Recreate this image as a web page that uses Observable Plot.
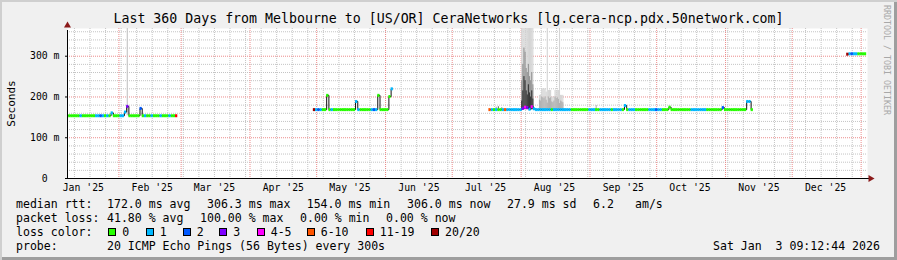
<!DOCTYPE html>
<html>
<head>
<meta charset="utf-8">
<script src="https://cdn.jsdelivr.net/npm/d3@7"></script>
<script src="https://cdn.jsdelivr.net/npm/@observablehq/plot@0.6"></script>
<style>
  html, body { margin: 0; padding: 0; background: #f0f0f0; }
  #graph { position: relative; width: 897px; height: 260px; overflow: hidden; background: #f0f0f0;
    box-shadow: inset 2px 2px 0 #cfcfcf, inset -3px -3px 0 #9e9e9e;
    font-family: "DejaVu Sans Mono", monospace; color: #000; }
  #chart { position: absolute; left: 0; top: 0; }
  #chart svg { display: block; }
  .t { position: absolute; white-space: pre; font-size: 11.55px; line-height: 14px; }
  #title { position: absolute; left: 0; width: 897px; top: 11.4px; text-align: center; font-size: 13.25px; line-height: 16px; white-space: pre; }
  #wm { position: absolute; left: 883px; top: 5px; font-size: 8.3px; line-height: 10px; color: #a8a8a8; white-space: pre;
    transform-origin: 0 0; transform: translate(9px, 0) rotate(90deg); }
  .box { position: absolute; width: 6px; height: 6px; border: 1px solid #000; }
</style>
</head>
<body>
<div id="graph">
  <div id="chart"></div>
  <div id="title"></div>
  <div id="wm"></div>
  <div id="legend"></div>
</div>
<script>
// ---------- data ----------
const titleText = "Last 360 Days from Melbourne to [US/OR] CeraNetworks [lg.cera-ncp.pdx.50network.com]";
const watermark = "RRDTOOL / TOBI OETIKER";
const yAxisTitle = "Seconds";

const xStart = "2025-01-08T21:00:00Z";
const xEnd = "2026-01-03T21:00:00Z";
const yMax = 368;

const yTicks = [0, 100, 200, 300];
const yTickLabels = ["0\u00a0\u00a0", "100 m", "200 m", "300 m"];

const monthTicks = ["2025-01-16", "2025-02-16", "2025-03-16", "2025-04-16", "2025-05-16", "2025-06-16",
                    "2025-07-16", "2025-08-16", "2025-09-16", "2025-10-16", "2025-11-16", "2025-12-16"];
const monthLabels = ["Jan '25", "Feb '25", "Mar '25", "Apr '25", "May '25", "Jun '25",
                     "Jul '25", "Aug '25", "Sep '25", "Oct '25", "Nov '25", "Dec '25"];

// loss colour classes
const lossLabels = ["0", "1", "2", "3", "4-5", "6-10", "11-19", "20/20"];
const lossColors = ["#26ff00", "#00b8ff", "#0059ff", "#7e00ff", "#ff00ff", "#ff5500", "#ff0000", "#a00000"];

// median rtt (ms), one value per day, in four runs of data
const segStarts = ["2025-01-09", "2025-04-30", "2025-07-18", "2025-12-26"];
const seg1Rtt = [
  154,154,154,154,154,154,154,154,154,154,
  154,154,154,154,154,154,154,154,154,154,
  161,154,154,154,154,154,163,177,154,154,
  154,154,154,172,154,154,154,154,154,154,
  154,154,154,154,154,154,154,154,154,154];
const seg1Loss = "0000001000" + "0001121010" + "1000111300" + "0002010010" + "0010001006";
const seg2Rtt = [
  169,169,169,169,169,169,204,169,169,169,
  169,169,169,169,169,169,169,169,169,189,
  169,169,169,169,169,169,169,169,169,204,
  169,169,169,169,201,220];
const seg2Loss = "7121000010" + "0000000001" + "1000001210" + "000001";
const seg3Rtt = [
  169,169,169,169,169,169,169,169,169,169,
  169,169,169,169,169,172,175,174,170,176,
  171,169,169,169,169,169,169,169,169,169,
  169,169,169,169,169,169,169,169,169,169,
  169,169,169,169,169,169,169,169,169,169,
  169,169,169,169,169,169,169,169,169,169,
  169,179,169,169,169,169,169,169,169,169,
  169,169,169,169,169,169,169,169,169,169,
  169,175,169,169,169,169,169,169,169,169,
  169,169,169,169,169,169,169,169,169,169,
  169,169,169,169,169,174,169,169,169,169,
  169,169,169,169,169,169,189,189,169];
const seg3Loss = "5101001511" + "1111134314" + "1111111101" + "1111111000" + "0000011100" +
                 "1111101111" + "0101110000" + "0011121100" + "0000000000" + "0111111100" +
                 "0000020000" + "000000110";
const seg4Rtt = [305,306,306,306,306,306,306,306,306];
const seg4Loss = "712110000";

// smoke (ping spread), 12-hourly from smokeRunStart
const smokeRunStart = "2025-08-01T12:00:00Z";
const smokeLightHi = [400,400,400,400,400,400,400,400,400,400,400, null,null,null,null,null,
  204,204,220,220,220,220,212,400,216,216,216,200,200,200,216,216,216,216,400,204,204,204];
const smokeSoftHi = [null,null,null,null,null,null,null,null,null,null,null, null,null,null,null,null,
  192,190,200,198,196,200,192,185,200,196,198,188,186,190,200,196,198,194,184,190,188,186];
const smokeMidHi = [240,280,320,310,270,260,280,250,240,260,230];
const smokeDarkHi = [190,215,250,240,215,205,230,210,200,215,195];
const smokeRunLow = 169;
// isolated smoke
const smokeTime = ["2025-02-05T00:00:00Z", "2025-07-21T00:00:00Z", "2025-07-22T00:00:00Z", "2025-07-23T12:00:00Z", "2025-09-04T00:00:00Z"];
const smokeLow = [154, 169, 169, 169, 169];
const smokeHigh = [400, 175, 176, 174, 179];
const smokeDensity = [0.22, 0.35, 0.6, 0.35, 0.3];

// legend texts
const statRows = [
  ["median rtt:", "172.0 ms avg", "306.3 ms max", "154.0 ms min", "306.0 ms now", "27.9 ms sd", "6.2", "am/s"],
  ["packet loss:", "41.80 % avg", "100.00 % max", "0.00 % min", "0.00 % now"],
];
const lossTitle = "loss color:";
const probeLabel = "probe:";
const probeText = "20 ICMP Echo Pings (56 Bytes) every 300s";
const stampText = "Sat Jan  3 09:12:44 2026";

// ---------- build tables ----------
const segRtt = [seg1Rtt, seg2Rtt, seg3Rtt, seg4Rtt];
const segLoss = [seg1Loss, seg2Loss, seg3Loss, seg4Loss];
const points = [];
segStarts.forEach((s, i) => {
  const d0 = new Date(s + "T00:00:00Z");
  segRtt[i].forEach((v, k) => {
    const date = d3.utcDay.offset(d0, k);
    points.push({seg: i, date, rtt: v, loss: +(segLoss[i][k] || 0),
      x1: d3.utcHour.offset(date, -12), x2: d3.utcHour.offset(date, 12)});
  });
});

const smoke = [];
const runStart = new Date(smokeRunStart);
[[smokeLightHi, 0.15], [smokeSoftHi, 0.3], [smokeMidHi, 0.42], [smokeDarkHi, 0.82]].forEach(([arr, dens]) => {
  arr.forEach((hi, i) => {
    if (hi == null) return;
    const t = d3.utcHour.offset(runStart, 12 * i);
    smoke.push({x1: d3.utcHour.offset(t, -6), x2: d3.utcHour.offset(t, 6), lo: smokeRunLow, hi, d: dens});
  });
});
smokeTime.forEach((s, i) => {
  const t = new Date(s);
  smoke.push({x1: d3.utcHour.offset(t, -6), x2: d3.utcHour.offset(t, 6), lo: smokeLow[i], hi: smokeHigh[i], d: smokeDensity[i]});
});

const x0 = new Date(xStart), x1 = new Date(xEnd);
const weeks = d3.utcSunday.range(x0, x1);
const months = d3.utcMonth.range(x0, x1);
const yMinor = d3.range(20, yMax, 20).filter(v => v % 100 !== 0);
const monthDates = monthTicks.map(s => new Date(s + "T00:00:00Z"));

const gridGray = "#c4c4c4";
const gridRed = "#ec8c8c";
const arrow = "#8b1a1a";

const chart = Plot.plot({
  width: 897, height: 197,
  marginLeft: 67, marginRight: 30, marginTop: 28, marginBottom: 19,
  style: {background: "transparent", fontFamily: "'DejaVu Sans Mono', monospace", fontSize: "9.8px", color: "#000", overflow: "visible"},
  x: {type: "utc", domain: [x0, x1], label: null},
  y: {domain: [0, yMax], label: null},
  color: {type: "linear", domain: [0, 1], range: ["#f6f6f6", "#101010"]},
  marks: [
    Plot.frame({fill: "#ffffff", stroke: null}),
    Plot.ruleY(yMinor, {stroke: gridGray, strokeDasharray: "1,1"}),
    Plot.ruleX(weeks, {stroke: gridGray, strokeDasharray: "1,1"}),
    Plot.ruleY(yTicks.filter(v => v > 0), {stroke: gridRed, strokeDasharray: "1,1"}),
    Plot.ruleX(months, {stroke: gridRed, strokeDasharray: "1,1"}),
    Plot.rect(smoke, {x1: "x1", x2: "x2", y1: "lo", y2: "hi", fill: "d", clip: true}),
    Plot.line(points, {x: "date", y: "rtt", z: "seg", curve: "step", stroke: "#111", strokeWidth: 1, clip: true}),
    ...lossColors.map((c, i) => Plot.ruleY(points.filter(p => p.loss === i),
      {x1: "x1", x2: "x2", y: "rtt", stroke: c, strokeWidth: 3, clip: true})),
    Plot.axisY({ticks: yTicks, tickSize: 2, tickPadding: 6, label: null,
      tickFormat: d => yTickLabels[yTicks.indexOf(d)]}),
    Plot.axisX({ticks: monthDates, tickSize: 0, tickPadding: 5.5, label: null,
      tickFormat: d => monthLabels[monthDates.findIndex(m => +m === +d)]}),
    Plot.ruleX([x0], {y1: 0, y2: yMax, stroke: "#000", insetBottom: -2}),
    Plot.ruleY([0], {stroke: "#000", insetLeft: -2, insetRight: -2}),
    Plot.dot([{x: x0, y: yMax}], {x: "x", y: "y", symbol: "triangle", r: 2.6, fill: arrow, stroke: null, dy: -3}),
    Plot.dot([{x: x1, y: 0}], {x: "x", y: "y", symbol: "triangle", r: 2.6, fill: arrow, stroke: null, rotate: 90, dx: 3}),
    Plot.text([yAxisTitle], {frameAnchor: "left", dx: -56, rotate: -90, textAnchor: "middle", lineAnchor: "middle", fontSize: 11})
  ]
});
document.getElementById("chart").appendChild(chart);

document.getElementById("title").textContent = titleText;
document.getElementById("wm").textContent = watermark;

// ---------- legend (html) ----------
const legend = document.getElementById("legend");
function put(text, left, top) {
  const s = document.createElement("div");
  s.className = "t"; s.textContent = text;
  s.style.left = left + "px"; s.style.top = top + "px";
  legend.appendChild(s);
}
const row1X = [16, 107, 207, 306.7, 407, 507, 593, 635];
statRows[0].forEach((t, i) => put(t, row1X[i], 197));
const row2X = [16, 107, 200, 300, 386];
statRows[1].forEach((t, i) => put(t, row2X[i], 211));
put(lossTitle, 16, 225);
const boxX = [108.3, 145.7, 182.7, 219.3, 256.7, 306.7, 365.7, 431];
lossLabels.forEach((l, i) => {
  const b = document.createElement("div");
  b.className = "box";
  b.style.left = boxX[i] + "px"; b.style.top = "228px"; b.style.background = lossColors[i];
  legend.appendChild(b);
  put(l, boxX[i] + 14, 225);
});
put(probeLabel, 16, 239);
put(probeText, 107, 239);
put(stampText, 713, 239);
</script>
</body>
</html>
